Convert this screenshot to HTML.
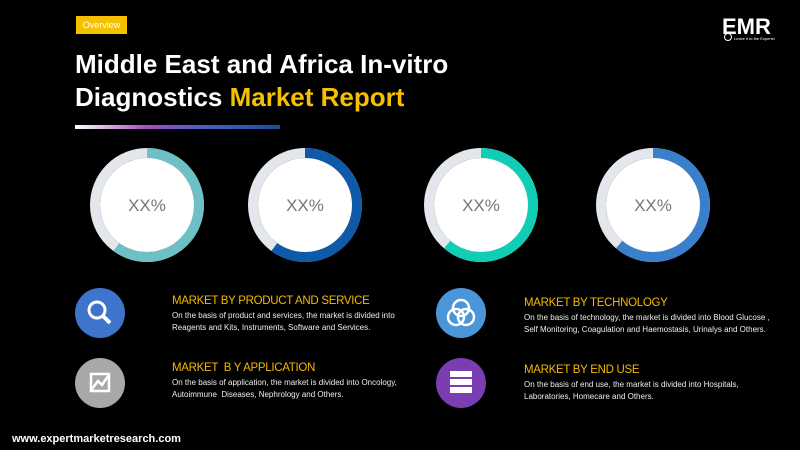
<!DOCTYPE html>
<html><head><meta charset="utf-8"><style>
body{margin:0;width:800px;height:450px;background:#000;overflow:hidden;position:relative;font-family:"Liberation Sans",sans-serif}
.a{position:absolute;white-space:nowrap}
.h{color:#f5b800;font-size:11.5px;letter-spacing:-0.3px}
.t{color:#eee;font-size:8px;line-height:12px}
</style></head><body>
<div class="a" style="left:76px;top:16px;width:51px;height:18px;background:#f5c000;color:#fff;font-size:9px;line-height:18px;text-align:center">Overview</div>
<div class="a" style="left:75px;top:48px;color:#fff;font-weight:bold;font-size:26px;line-height:33px;letter-spacing:0">Middle East and Africa In-vitro<br>Diagnostics <span style="color:#f5c000">Market Report</span></div>
<div class="a" style="left:75px;top:125px;width:205px;height:4px;background:linear-gradient(90deg,#fff,#a44ec0 35%,#3b5fc0 70%,#1d4a9a)"></div>
<div class="a" style="left:722px;top:14px;color:#fff;font-weight:bold;font-size:22px">EMR</div>
<div class="a" style="left:734px;top:36px;color:#fff;font-size:4px">Leave it to the Experts!</div>
<div class="a" style="left:724px;top:33px;width:6px;height:6px;border:1.5px solid #fff;border-radius:50%"></div>
<svg class="a" style="left:0;top:0" width="800" height="300">
<g font-family="Liberation Sans" font-size="17" fill="#777" text-anchor="middle">
<circle cx="147" cy="205" r="52" fill="none" stroke="#e3e6eb" stroke-width="10"/>
<circle cx="147" cy="205" r="52" fill="none" stroke="#6dc0c4" stroke-width="10" stroke-dasharray="196 400" transform="rotate(-90 147 205)"/>
<circle cx="147" cy="205" r="47" fill="#fff"/><text x="147" y="211">XX%</text>
<circle cx="305" cy="205" r="52" fill="none" stroke="#e3e6eb" stroke-width="10"/>
<circle cx="305" cy="205" r="52" fill="none" stroke="#0e5aa8" stroke-width="10" stroke-dasharray="196 400" transform="rotate(-90 305 205)"/>
<circle cx="305" cy="205" r="47" fill="#fff"/><text x="305" y="211">XX%</text>
<circle cx="481" cy="205" r="52" fill="none" stroke="#e3e6eb" stroke-width="10"/>
<circle cx="481" cy="205" r="52" fill="none" stroke="#12cdb5" stroke-width="10" stroke-dasharray="200 400" transform="rotate(-90 481 205)"/>
<circle cx="481" cy="205" r="47" fill="#fff"/><text x="481" y="211">XX%</text>
<circle cx="653" cy="205" r="52" fill="none" stroke="#e3e6eb" stroke-width="10"/>
<circle cx="653" cy="205" r="52" fill="none" stroke="#3a7fcc" stroke-width="10" stroke-dasharray="200 400" transform="rotate(-90 653 205)"/>
<circle cx="653" cy="205" r="47" fill="#fff"/><text x="653" y="211">XX%</text>
</g></svg>
<svg class="a" style="left:0;top:280px" width="800" height="140">
<circle cx="100" cy="33" r="25" fill="#3f74cc"/>
<circle cx="97" cy="30" r="8" fill="none" stroke="#fff" stroke-width="3"/><line x1="103" y1="36" x2="110" y2="43" stroke="#fff" stroke-width="4"/>
<circle cx="100" cy="103" r="25" fill="#a8a8a8"/>
<rect x="91" y="94" width="18" height="17" fill="none" stroke="#fff" stroke-width="2.5"/><polyline points="92,109 98,101 102,105 108,96" fill="none" stroke="#fff" stroke-width="2.5"/>
<circle cx="461" cy="33" r="25" fill="#4b96d8"/>
<circle cx="461" cy="28" r="8" fill="none" stroke="#fff" stroke-width="2.5"/><circle cx="456" cy="37" r="8" fill="none" stroke="#fff" stroke-width="2.5"/><circle cx="466" cy="37" r="8" fill="none" stroke="#fff" stroke-width="2.5"/>
<circle cx="461" cy="103" r="25" fill="#7a3db2"/>
<rect x="450" y="91" width="22" height="6" fill="#fff"/><rect x="450" y="99" width="22" height="6" fill="#fff"/><rect x="450" y="107" width="22" height="6" fill="#fff"/>
</svg>
<div class="a h" style="left:172px;top:295px">MARKET BY PRODUCT AND SERVICE</div>
<div class="a t" style="left:172px;top:310px">On the basis of product and services, the market is divided into<br>Reagents and Kits, Instruments, Software and Services.</div>
<div class="a h" style="left:172px;top:362px">MARKET &nbsp;B Y APPLICATION</div>
<div class="a t" style="left:172px;top:377px">On the basis of application, the market is divided into Oncology,<br>Autoimmune &nbsp;Diseases, Nephrology and Others.</div>
<div class="a h" style="left:524px;top:297px">MARKET BY TECHNOLOGY</div>
<div class="a t" style="left:524px;top:312px">On the basis of technology, the market is divided into Blood Glucose ,<br>Self Monitoring, Coagulation and Haemostasis, Urinalys and Others.</div>
<div class="a h" style="left:524px;top:364px">MARKET BY END USE</div>
<div class="a t" style="left:524px;top:379px">On the basis of end use, the market is divided into Hospitals,<br>Laboratories, Homecare and Others.</div>
<div class="a" style="left:12px;top:433px;color:#fff;font-weight:bold;font-size:11px">www.expertmarketresearch.com</div>
</body></html>
